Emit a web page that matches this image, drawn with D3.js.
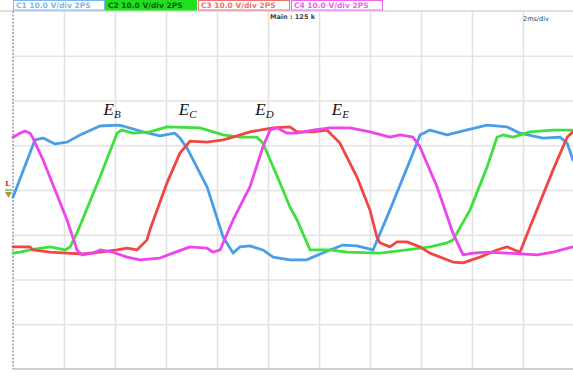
<!DOCTYPE html>
<html>
<head>
<meta charset="utf-8">
<script src="https://cdn.jsdelivr.net/npm/d3@7"></script>
<style>
  html, body { margin: 0; padding: 0; background: #fff; }
  svg { display: block; }
</style>
</head>
<body>
<svg id="chart" width="573" height="377"></svg>
<script>
// Four phase voltages, [time in ms, volts]
const phaseB = [[0,-1.6],[0.86,11.2],[1.18,11.6],[1.65,10.3],[2.12,10.7],[2.63,12.3],[3.41,14.3],[4.08,14.5],[4.31,14.3],[5.10,13.0],[5.76,12.1],[6.35,12.7],[6.55,11.6],[6.82,9.4],[7.61,0.7],[8.24,-10.5],[8.63,-14.1],[8.90,-12.7],[9.29,-12.5],[9.80,-13.4],[10.20,-15.0],[10.86,-15.6],[11.53,-15.6],[11.76,-15.0],[12.43,-13.4],[12.94,-12.3],[13.49,-12.5],[14.12,-13.4],[14.78,-4.5],[15.69,8.3],[15.96,12.3],[16.35,13.4],[17.02,12.3],[17.65,13.2],[18.59,14.5],[19.37,14.1],[19.88,12.7],[20.78,11.6],[21.45,11.8],[21.73,10.5],[21.96,6.7]];
const phaseC = [[0,-14.1],[0.27,-13.9],[0.67,-13.4],[1.45,-12.7],[2.04,-13.4],[2.24,-12.7],[2.51,-9.6],[3.41,2.9],[4.08,12.7],[4.27,13.4],[4.71,12.7],[5.37,13.0],[6.04,14.1],[7.33,13.9],[8.24,12.3],[8.90,11.8],[9.57,11.8],[9.80,10.5],[10.47,1.6],[10.86,-3.8],[11.14,-6.7],[11.65,-13.4],[12.43,-13.4],[13.10,-13.9],[14.39,-14.1],[15.45,-13.4],[16.35,-12.7],[17.02,-11.8],[17.25,-11.2],[17.92,-4.5],[18.59,5.1],[18.98,11.8],[19.22,12.3],[19.61,11.8],[20.27,13.0],[21.18,13.4],[21.96,13.4]];
const phaseD = [[0,-12.7],[0.67,-12.7],[0.78,-13.4],[1.45,-13.9],[2.12,-14.1],[2.75,-14.3],[3.41,-13.9],[4.08,-13.4],[4.47,-13.0],[4.86,-13.4],[5.25,-11.2],[5.37,-8.9],[6.04,1.6],[6.55,8.3],[6.94,10.9],[7.61,10.7],[8.24,11.2],[8.63,11.8],[9.29,13.0],[10.20,13.9],[10.86,14.1],[11.14,13.0],[11.76,13.0],[12.31,13.4],[12.82,10.5],[13.49,2.9],[14.0,-4.5],[14.27,-10.5],[14.39,-11.8],[14.78,-12.7],[15.06,-11.6],[15.45,-11.6],[15.96,-12.7],[16.35,-14.1],[17.25,-16.1],[17.65,-16.3],[18.31,-15.0],[18.98,-13.4],[19.37,-12.7],[19.88,-13.9],[20.27,-8.3],[21.18,4.5],[21.73,11.8],[21.96,13.0]];
const phaseE = [[0,11.8],[0.27,12.7],[0.47,13.2],[0.67,12.7],[0.78,11.6],[1.18,6.7],[2.12,-6.7],[2.51,-13.4],[2.71,-14.5],[3.14,-14.1],[3.41,-13.4],[3.92,-13.9],[4.47,-15.0],[4.98,-15.6],[5.76,-15.2],[6.27,-14.1],[6.94,-12.7],[7.61,-13.0],[7.84,-13.9],[8.12,-13.4],[8.63,-6.7],[9.29,0.7],[9.80,9.6],[10.08,13.4],[10.35,13.9],[10.75,12.7],[11.14,12.7],[11.76,13.4],[12.43,13.9],[13.22,13.9],[14.0,13.0],[14.78,11.8],[15.18,12.3],[15.69,11.8],[15.96,9.6],[16.63,0.7],[17.25,-9.6],[17.65,-14.5],[18.04,-14.1],[18.59,-13.9],[19.37,-14.1],[20.55,-14.5],[21.18,-13.9],[21.96,-12.7]];

const timeTicks = [2,4,6,8,10,12,14,16,18,20];
const voltTicks = [-30,-20,-10,0,10,20,30];
const channelLabels = ["C1  10.0 V/div 2PS","C2  10.0 V/div 2PS","C3  10.0 V/div 2PS","C4  10.0 V/div 2PS"];
const phaseNames = ["B","C","D","E"];
const phaseLabelTimes = [3.55, 6.5, 9.5, 12.5];
const phaseLabelVolts = [16.8, 16.8, 16.8, 16.8];

const svg = d3.select("#chart");
const plotLeft = 13, plotRight = 574, plotTop = 11, plotBottom = 369;

const x = d3.scaleLinear().domain([0, 22]).range([plotLeft, plotRight]);
const y = d3.scaleLinear().domain([-40, 40]).range([plotBottom, plotTop]);

// graticule
const gx = svg.append("g").attr("transform", `translate(0,${plotBottom})`)
  .call(d3.axisBottom(x).tickValues(timeTicks).tickSize(-(plotBottom - plotTop)).tickFormat(""));
gx.select(".domain").remove();
gx.selectAll("line").attr("stroke", "#e3e3e3").attr("stroke-width", 1.6);

const gy = svg.append("g").attr("transform", `translate(${plotLeft},0)`)
  .call(d3.axisLeft(y).tickValues(voltTicks).tickSize(-(plotRight - plotLeft)).tickFormat(""));
gy.select(".domain").remove();
gy.selectAll("line").attr("stroke", "#e3e3e3").attr("stroke-width", 1.6);

// frame
svg.append("line").attr("x1", 0).attr("x2", 573).attr("y1", plotTop).attr("y2", plotTop)
  .attr("stroke", "#d6d6d6").attr("stroke-width", 1.5);
svg.append("line").attr("x1", plotLeft).attr("x2", 573).attr("y1", plotBottom).attr("y2", plotBottom)
  .attr("stroke", "#cfcfcf").attr("stroke-width", 2);
svg.append("line").attr("x1", plotLeft).attr("x2", plotLeft).attr("y1", plotTop).attr("y2", plotBottom)
  .attr("stroke", "#9a9a9a").attr("stroke-width", 1.5).attr("stroke-dasharray", "2,1.5");

// channel header boxes
const boxStyle = [
  {fill: "#ffffff", stroke: "#7ab8ee", text: "#7ab8ee"},
  {fill: "#1fe01f", stroke: "#1fe01f", text: "#0a5a0a"},
  {fill: "#ffffff", stroke: "#f07070", text: "#f07070"},
  {fill: "#ffffff", stroke: "#ee66ee", text: "#ee66ee"}
];
const boxX = [13, 105, 198, 291];
channelLabels.forEach((lab, i) => {
  svg.append("rect").attr("x", boxX[i] + 0.5).attr("y", 0.5).attr("width", 91).attr("height", 9.5)
    .attr("fill", boxStyle[i].fill).attr("stroke", boxStyle[i].stroke).attr("stroke-width", 1);
  svg.append("text").attr("x", boxX[i] + 3).attr("y", 8.2).text(lab)
    .attr("font-family", "DejaVu Sans, sans-serif").attr("font-size", 7.5).attr("font-weight", "bold")
    .attr("fill", boxStyle[i].text);
});

svg.append("text").attr("x", 270).attr("y", 19).text("Main : 125 k")
  .attr("font-family", "DejaVu Sans, sans-serif").attr("font-size", 6.5).attr("font-weight", "bold").attr("fill", "#444");
svg.append("text").attr("x", 523).attr("y", 21).text("2ms/div")
  .attr("font-family", "DejaVu Sans, sans-serif").attr("font-size", 6.5).attr("fill", "#444");

// trigger level / ground marker
svg.append("text").attr("x", 5).attr("y", 186).text("L")
  .attr("font-family", "DejaVu Serif, serif").attr("font-size", 8).attr("font-weight", "bold").attr("fill", "#dd3333");
svg.append("line").attr("x1", 5).attr("x2", 12).attr("y1", y(0)).attr("y2", y(0))
  .attr("stroke", "#55cc55").attr("stroke-width", 1.5);
svg.append("path").attr("d", `M5,${y(0) + 2}L12,${y(0) + 2}L8.5,${y(0) + 8}Z`).attr("fill", "#a89a3a");

// traces
const line = d3.line().x(d => x(d[0])).y(d => y(d[1]));
const traces = [
  {data: phaseB, color: "#4a9ee8"},
  {data: phaseC, color: "#3ee03e"},
  {data: phaseD, color: "#f04646"},
  {data: phaseE, color: "#ee44ee"}
];
traces.forEach(t => {
  svg.append("path").datum(t.data).attr("d", line)
    .attr("fill", "none").attr("stroke", t.color).attr("stroke-width", 2.8)
    .attr("stroke-linejoin", "round").attr("stroke-linecap", "round");
});

// phase labels
phaseNames.forEach((n, i) => {
  const t = svg.append("text").attr("x", x(phaseLabelTimes[i])).attr("y", y(phaseLabelVolts[i]))
    .attr("font-family", "Liberation Serif, Times New Roman, serif").attr("font-style", "italic")
    .attr("font-size", 17).attr("fill", "#111");
  t.append("tspan").text("E");
  t.append("tspan").text(n).attr("font-size", 11).attr("dy", 3);
});
</script>
</body>
</html>
